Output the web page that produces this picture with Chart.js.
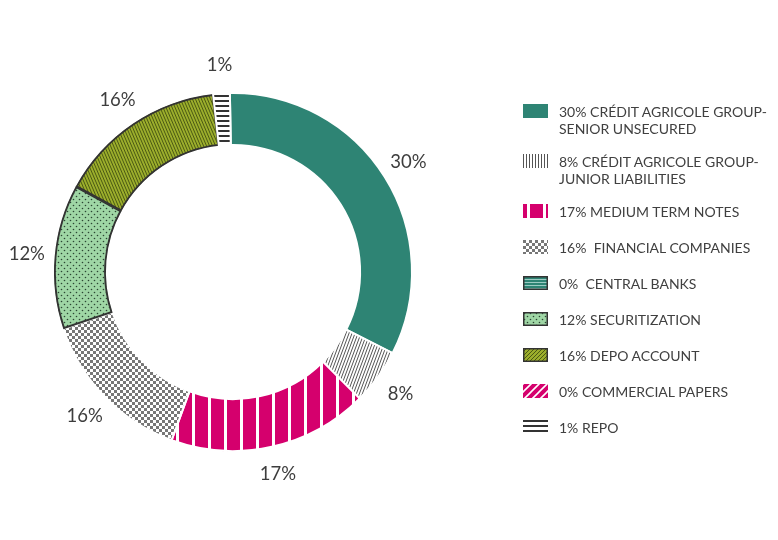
<!DOCTYPE html>
<html>
<head>
<meta charset="utf-8">
<script src="https://cdn.jsdelivr.net/npm/chart.js@4.4.1/dist/chart.umd.min.js"></script>
<style>
body{margin:0;background:#fff;font-family:Lato,sans-serif;}
#wrap{position:relative;width:778px;height:540px;}
#box{position:absolute;left:0;top:0;width:778px;height:540px;}
#legend{position:absolute;left:523px;top:103px;width:255px;}
.item{display:flex;align-items:flex-start;margin-bottom:16px;min-height:20px;}
.item canvas{flex:none;margin-top:1px;margin-right:11px;}
.txt{font-size:14px;line-height:17px;color:#404040;white-space:pre-wrap;}
</style>
</head>
<body>
<div id="wrap">
  <div id="box"><canvas id="chart"></canvas></div>
  <div id="legend"></div>
</div>
<script>
// share of each slice
const categories = ['Senior unsecured', 'Junior liabilities', 'Medium term notes', 'Financial companies',
    'Central banks', 'Securitization', 'Depo account', 'Commercial papers', 'Repo'];
const shares = [32.8, 5.0, 18.1, 14.3, 0, 13.1, 15.3, 0, 1.5];
// printed labels
const pctLabels = ['30%', '8%', '17%', '16%', '0%', '12%', '16%', '0%', '1%'];
const legendNames = ['CRÉDIT AGRICOLE GROUP-\nSENIOR UNSECURED', 'CRÉDIT AGRICOLE GROUP-\nJUNIOR LIABILITIES',
    'MEDIUM TERM NOTES', ' FINANCIAL COMPANIES', ' CENTRAL BANKS', 'SECURITIZATION',
    'DEPO ACCOUNT', 'COMMERCIAL PAPERS', 'REPO'];

function tile(w, h, draw){
    let c = document.createElement('canvas');
    c.width = w; c.height = h;
    draw(c.getContext('2d'), w, h);
    return document.createElement('canvas').getContext('2d').createPattern(c, 'repeat');
}
const TEAL = '#2e8474', MAGENTA = '#d5006d';
let fills = [
    TEAL,
    tile(3, 8, (g) => { g.fillStyle = '#fff'; g.fillRect(0, 0, 3, 8); g.strokeStyle = '#555'; g.lineWidth = 1;
        g.beginPath(); for (let k = -1; k <= 1; k++) { g.moveTo(k * 3, 8); g.lineTo(k * 3 + 3, 0); } g.stroke(); }),
    tile(16, 16, (g) => { g.fillStyle = MAGENTA; g.fillRect(0, 0, 16, 16); g.fillStyle = '#fff'; g.fillRect(0, 0, 3, 16); }),
    tile(6, 6, (g) => { g.fillStyle = '#fff'; g.fillRect(0, 0, 6, 6); g.fillStyle = '#777'; g.fillRect(0, 0, 3, 3); g.fillRect(3, 3, 3, 3); }),
    tile(4, 3, (g) => { g.fillStyle = TEAL; g.fillRect(0, 0, 4, 3); g.fillStyle = '#9ccbc3'; g.fillRect(0, 0, 4, 1); }),
    tile(6, 6, (g) => { g.fillStyle = '#9fd6a5'; g.fillRect(0, 0, 6, 6); g.fillStyle = '#2b4633';
        g.beginPath(); g.arc(1.5, 1.5, 0.8, 0, Math.PI * 2); g.arc(4.5, 4.5, 0.8, 0, Math.PI * 2); g.fill(); }),
    tile(3, 7, (g) => { g.fillStyle = '#9cae2c'; g.fillRect(0, 0, 3, 7); g.strokeStyle = '#4b5a14'; g.lineWidth = 1;
        g.beginPath(); for (let k = -1; k <= 1; k++) { g.moveTo(k * 3, 0); g.lineTo(k * 3 + 3, 7); } g.stroke(); }),
    tile(8, 8, (g) => { g.fillStyle = MAGENTA; g.fillRect(0, 0, 8, 8); g.strokeStyle = '#fff'; g.lineWidth = 1.6;
        g.beginPath(); g.moveTo(-2, 10); g.lineTo(10, -2); g.moveTo(-2, 2); g.lineTo(2, -2); g.moveTo(6, 10); g.lineTo(10, 6); g.stroke(); }),
    tile(5, 5, (g) => { g.fillStyle = '#fff'; g.fillRect(0, 0, 5, 5); g.fillStyle = '#333'; g.fillRect(0, 0, 5, 2); })
];
// legend swatches use upright versions of the line patterns
let swatchFills = fills.slice();
swatchFills[1] = tile(3, 3, (g) => { g.fillStyle = '#fff'; g.fillRect(0, 0, 3, 3); g.fillStyle = '#555'; g.fillRect(0, 0, 1, 3); });
swatchFills[6] = tile(4, 4, (g) => { g.fillStyle = '#9cae2c'; g.fillRect(0, 0, 4, 4); g.strokeStyle = '#4b5a14'; g.lineWidth = 1;
    g.beginPath(); g.moveTo(-1, 5); g.lineTo(5, -1); g.moveTo(-1, 1); g.lineTo(1, -1); g.moveTo(3, 5); g.lineTo(5, 3); g.stroke(); });

const borderColors = ['#fff', '#fff', '#fff', '#fff', '#fff', '#333', '#333', '#fff', '#fff'];
const borderWidths = [2, 2, 2, 2, 0, 1.5, 1.5, 0, 2];
const swatchBorder = [false, false, false, false, true, true, true, false, false];

const outerLabels = {
    id: 'outerLabels',
    afterDatasetsDraw(chart){
        let ctx = chart.ctx;
        let meta = chart.getDatasetMeta(0);
        ctx.save();
        ctx.font = '18.5px Lato';
        ctx.fillStyle = '#3d3d3d';
        ctx.textAlign = 'center';
        ctx.textBaseline = 'middle';
        meta.data.forEach((arc, i) => {
            if (!shares[i]) return;
            let p = arc.getProps(['x', 'y', 'startAngle', 'endAngle', 'outerRadius'], true);
            let a = (p.startAngle + p.endAngle) / 2, r = p.outerRadius + 28;
            ctx.fillText(pctLabels[i], p.x + Math.cos(a) * r, p.y + Math.sin(a) * r);
        });
        ctx.restore();
    }
};

new Chart(document.getElementById('chart'), {
    type: 'doughnut',
    data: {
        labels: categories,
        datasets: [{
            data: shares,
            backgroundColor: fills,
            borderColor: borderColors,
            borderWidth: borderWidths,
            borderAlign: ['center', 'center', 'center', 'center', 'center', 'inner', 'inner', 'center', 'center']
        }]
    },
    options: {
        responsive: true,
        maintainAspectRatio: false,
        animation: false,
        cutout: '71%',
        rotation: -1,
        layout: {padding: {left: 53, right: 365, top: 92, bottom: 88}},
        plugins: {legend: {display: false}, tooltip: {enabled: false}}
    },
    plugins: [outerLabels]
});

let legendEl = document.getElementById('legend');
legendNames.forEach((name, i) => {
    let item = document.createElement('div');
    item.className = 'item';
    let sw = document.createElement('canvas');
    sw.width = 25; sw.height = 14;
    let g = sw.getContext('2d');
    g.fillStyle = swatchFills[i];
    if (i === 2) { g.translate(4, 0); g.fillRect(-4, 0, 25, 14); g.setTransform(1, 0, 0, 1, 0, 0); }
    else g.fillRect(0, 0, 25, 14);
    if (swatchBorder[i]) { g.strokeStyle = '#333'; g.lineWidth = 1.5; g.strokeRect(0.75, 0.75, 23.5, 12.5); }
    let t = document.createElement('div');
    t.className = 'txt';
    t.textContent = pctLabels[i] + ' ' + name;
    item.appendChild(sw);
    item.appendChild(t);
    legendEl.appendChild(item);
});
</script>
</body>
</html>
